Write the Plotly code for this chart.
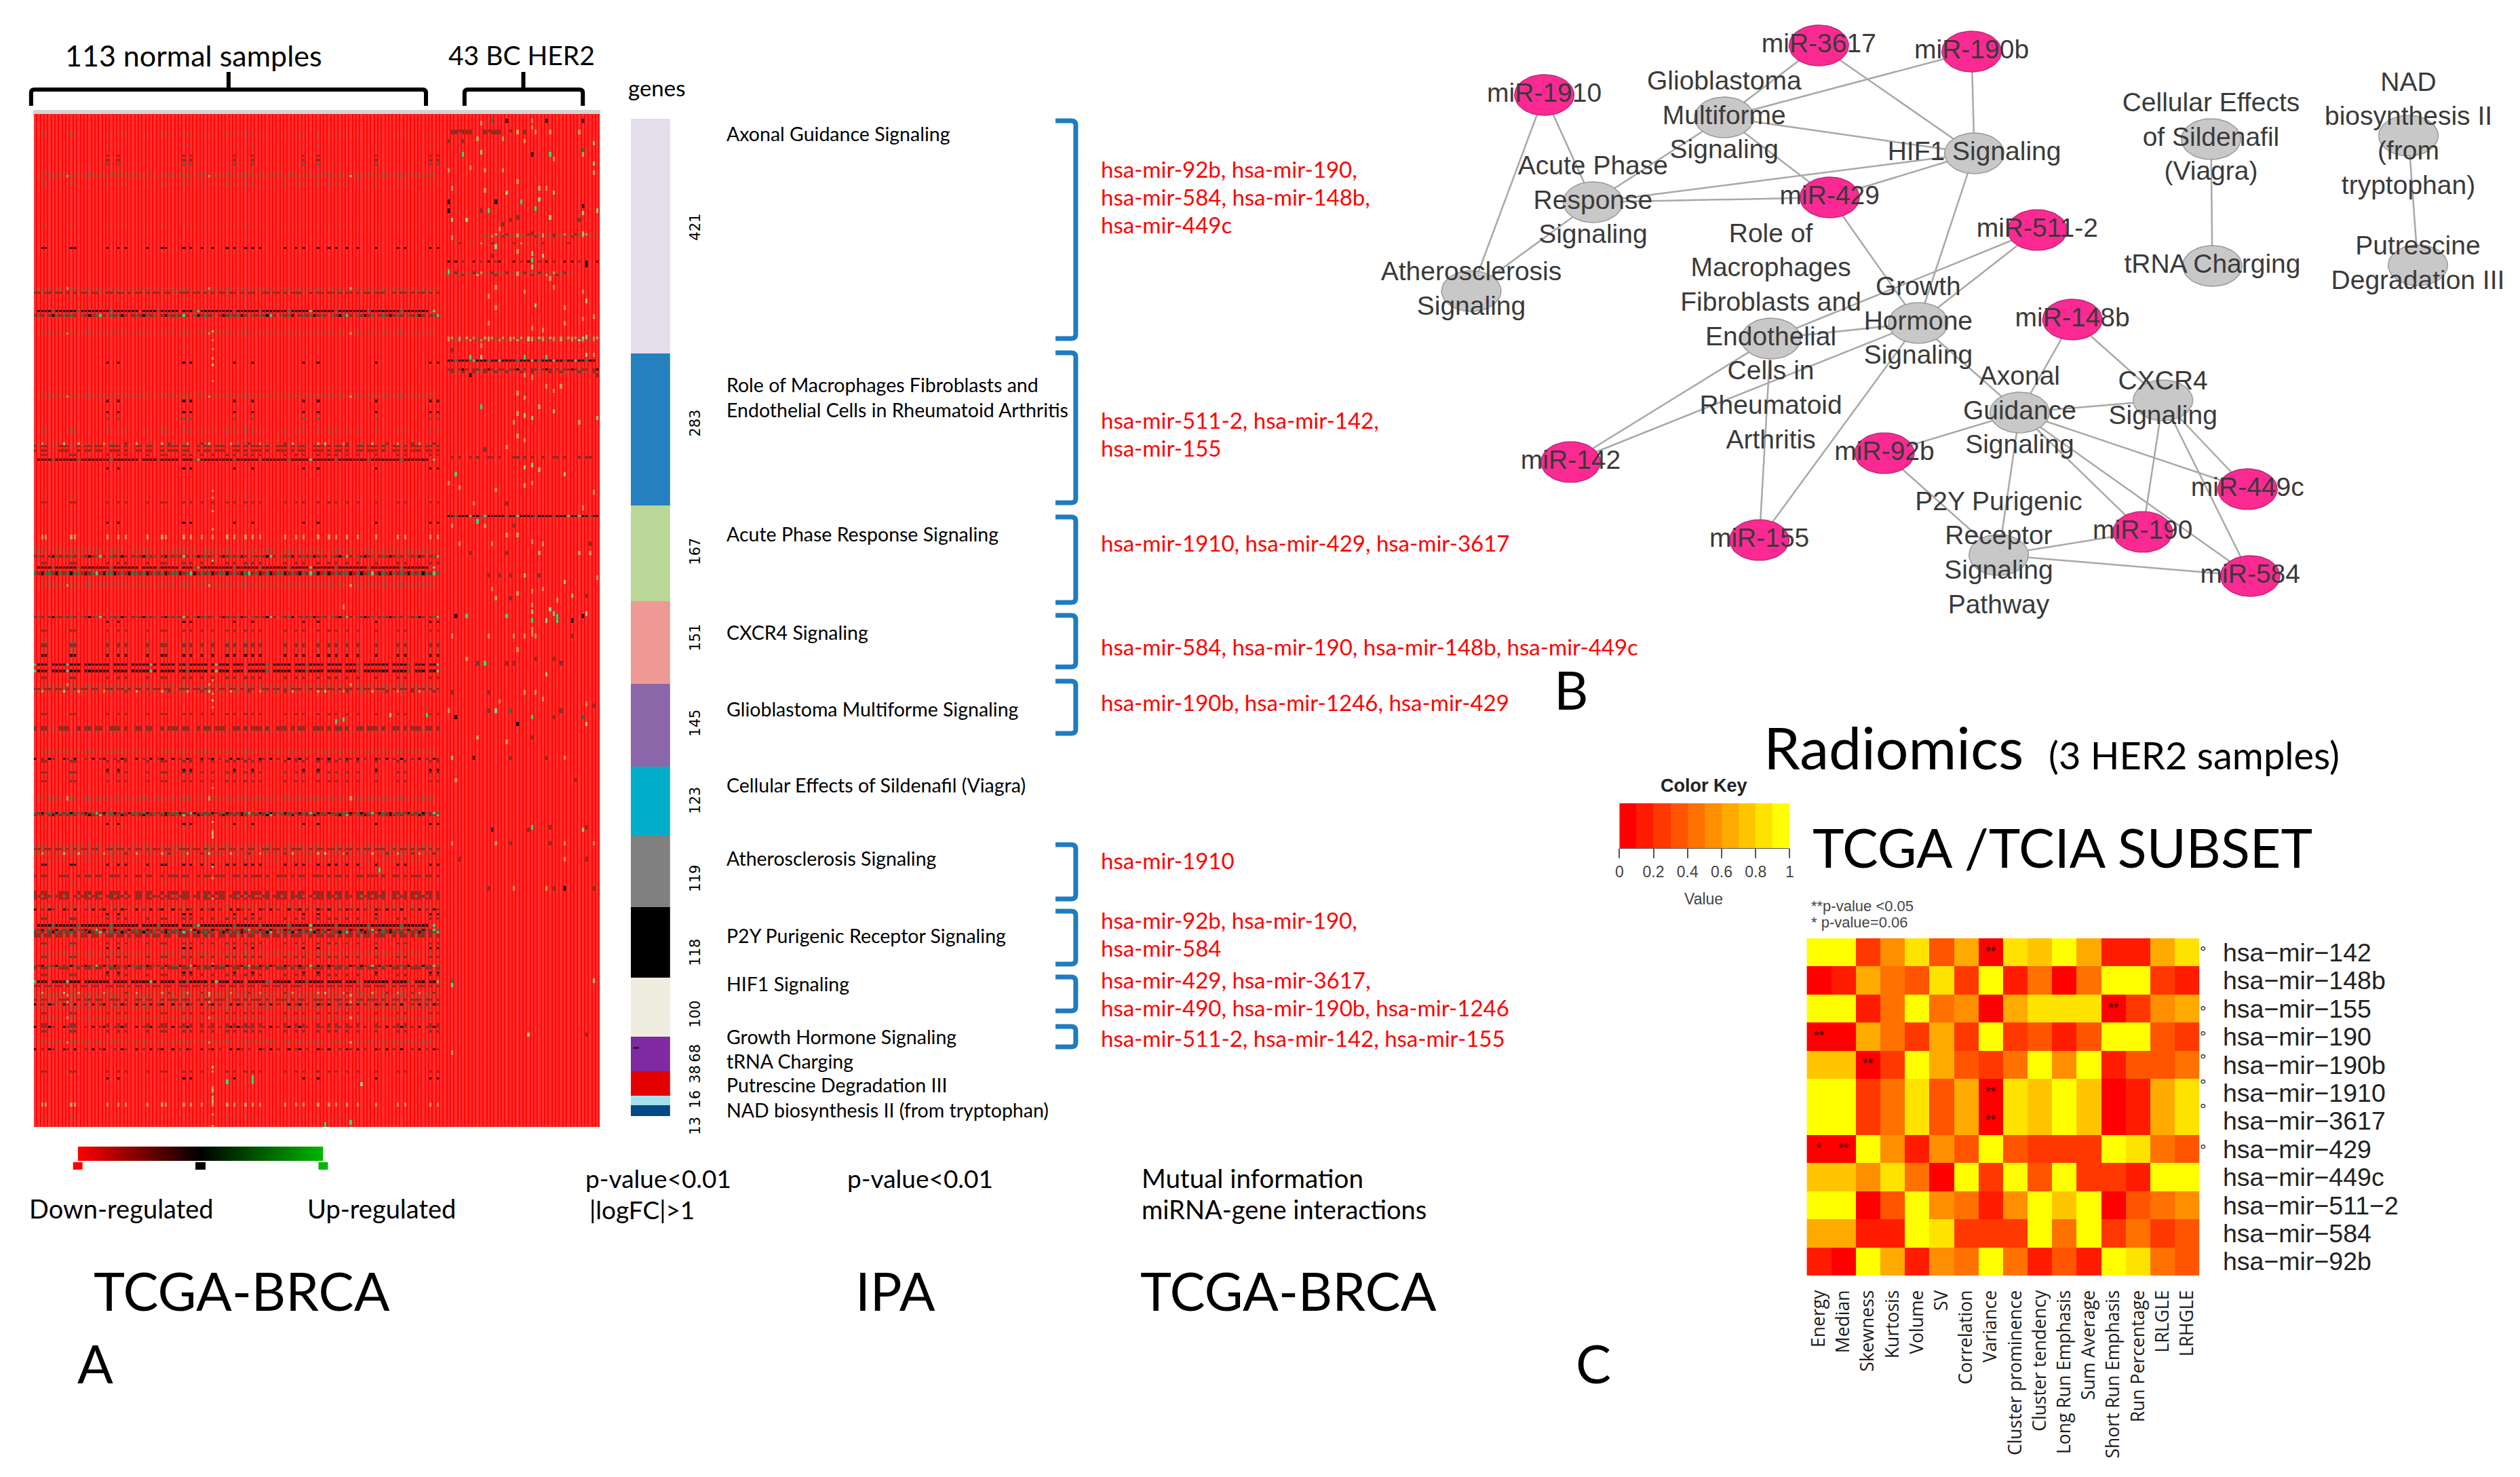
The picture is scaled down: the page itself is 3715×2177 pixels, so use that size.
import numpy as np
import plotly.graph_objects as go

W, H = 3715, 2177

# ---------- Panel A : expression heat map ----------
N_ROWS, N_NORMAL, N_HER2 = 450, 113, 43
HOT_A = [20, 23, 41, 43, 55, 60, 74, 78, 94, 109, 111]
HOT_B = [2, 3, 10, 11, 20, 23, 25, 31, 35, 36, 41, 43, 46, 49, 53, 55, 58, 60, 62, 69,
         72, 74, 78, 81, 83, 86, 89, 94, 100, 102, 109, 111]
ROWS_HOT_A = {13: 'b', 18: 'd', 20: 'd', 22: 'g', 103: 'b', 110: 'k', 127: 'k', 132: 'k', 135: 'g',
              157: 'k', 181: 'k', 225: 'k', 291: 'k', 315: 'k', 355: 'k', 381: 'k', 428: 'k', 370: 'k'}
ROWS_HOT_B = {8: 'b', 9: 'b', 30: 'b', 31: 'b', 49: 'b', 59: 'k', 81: 'b', 139: 'b', 140: 'b', 141: 'b', 151: 'd', 169: 'b', 172: 'd',
              187: 't', 188: 't', 199: 'd', 229: 'd', 233: 'b', 234: 'b', 235: 'd', 236: 'd', 237: 'b', 238: 'b', 240: 'k', 250: 'd', 266: 'd',
              287: 'd', 296: 'd', 341: 'b', 357: 'd', 368: 'd', 369: 'b', 404: 'd', 405: 'd', 407: 'd', 425: 'd',
              439: 't', 440: 't', 445: 'b', 374: 'd', 375: 'b', 333: 'k', 292: 'd', 293: 'b', 316: 'b', 356: 'b', 382: 'd', 389: 'b', 399: 'd'}
DENSE_PATTERNS = {
    'BROWN_1': "..bbb.bbbb.bb.bbb.bb.bbbbb.bbb.bb..bbbb.bbb.bbbbb.bb.bbb.bbbb.bb.bbbb.bbb.bbb.bbbbb.bb.bbb.bbbb.bb.bbb.bbbb.bbb",
    'BROWN_2': ".bb.bbbb.tbb.bbb.bbbb.bb.bb.bbbb.bbb.bb.bbbb.bb.tbbb.bb.bbb.bbbb.bb.bbb.bb.bbbbb.bb.bb.tbbb.bbb.bb.bbbb.bb.bbbb.",
    'BROWN_3': "bbbb..bbb.bbbb.b.bb..bbbb..bb.bbb..bb.bbbb.bb..bbbb.bbb..b.bbb.bbbb..bbb.bb.bbbb..bbb.bbb..bbbb.b.bbb.bbbb.bbb.b",
    'DARK_1': "ddbdd.ddbd.dbdd.ddb.dd.ddbd.dd.dbdd.dd.bddd.dd.dbd.dd.ddbd.dd.bdd.ddbd.ddd.bd.dd.ddbd.dd.dbdd.ddd.bd.dd.dbdd.dbd",
    'DARK_2': "d.dd.b.ddd..d.dd.dd..ddd.d..dd.dd..d.ddd.dd..d.dd.ddd..dd.d.ddd.d..ddd.d.dd..ddd.d.dd.d..dd.ddd.d..dd.d.ddd.dd.d",
    'BLACK_1': ".kkkkgkkkkkkgkkkkkkkkgkkkkkkk.kkkkgkkkkk.kkkgGkkkkkkkkkgkkkkkkgkkkkkkkgkkkkkGkkkkkkgkkkkkkkkgkkkkkkkkgkkkkkkk.G",
    'BLACK_2': "Gkkk.kkkkGkkk.kkkkkkk.kkkk.kkkkkGk.kkkk.kkgkkkkk.kGkkk.kkk.kkkkkg.kkkkk.kkkgkkkk.kkkk.kkkg.kkkkkkk.kkkkg.kkk.kkG",
    'GREEN_1': "gdkggdkgdgkggdkdgGdkggkdgdkggdgkdgdgkdggkdgGkdgdgkdggkdgdkgGdgkdgkdggkdgdkgdGgkdgkdgdggkdgkdgGdkgdkgdgdkgdgkgdGg",
    'GREEN_2': "dgd.dkgdgdgd.gdkdgGd.gdgkd.dgdkgdg.dkgdgdGd.gkdgdg.dkdgdgkd.gdgdkGd.gdgk.dgdgkdgd.gdkgGd.gdkdg.dgdkdgd.gdgkd.dgG",
    'SPECK_1': "k.d.kd..kd.k..d.k.dk..d.kd..k.d.k.dk..k.d.kd..k.dk.d..k.kd.d..kd.k.d..k.dk.d..kd.k..d.kd.k.d..kd.k.d.k..d.k.d.kd",
    'MIX_TAN': "bbtb.bbbl.bbtbb.bb.tbbb.bdb.tb.bbb.tbdb.bbtb.bdbl.bbb.tbb.bdb.tbb.bb.dbtb.bbb.tbl.bb.tdb.bbb.tb.bdb.tbb.dbt.bbdb",
}
DENSE_ROWS = {
    'BROWN_1': [26, 96, 208, 282, 372, 124, 283, 373, 331, 352, 254],
    'BROWN_2': [27, 77, 97, 125, 209, 253, 303, 304, 391, 394, 412, 401],
    'BROWN_3': [78, 193, 194, 325, 351, 396, 397, 411, 324, 327, 392, 274],
    'DARK_1': [79, 255, 326, 364, 365, 387, 347],
    'DARK_2': [149, 272, 273, 346, 345, 338, 393, 147, 348, 379],
    'BLACK_1': [87, 201, 360, 153],
    'BLACK_2': [244, 247, 385],
    'GREEN_1': [203, 204, 362, 378, 310],
    'GREEN_2': [196, 89, 311, 223, 363],
    'SPECK_1': [286, 405, 353, 415, 395],
    'MIX_TAN': [146, 256, 328, 390],
}
COL49_ROWS = [96, 100, 104, 108, 111, 118, 167, 170, 176, 184, 198, 251, 257, 260, 263, 299, 314, 318, 319,
              320, 321, 334, 339, 348, 377, 423, 425, 432, 433, 434, 436, 437, 438, 444, 449]
COL49_LIGHT = [96, 111, 176, 198, 260, 314, 319, 321, 334, 423, 433, 436, 438, 449]
NORMAL_MARKS = [(335, 95, 'G'), (429, 53, 'G'), (429, 60, 'G'), (427, 60, 'G'), (448, 80, 'G'), (447, 87, 'G'),
                (430, 90, 'l'), (218, 85, 't'), (269, 83, 'G'), (268, 85, 'G'), (266, 98, 'l'), (266, 108, 'G')]
HER2_PATTERNS = {
    7: "..dddddd...ddddd..d.t.d..t...t.......t.....",
    8: "..dd.ddd...d.ddd....t.d..t...t.......t.....",
    53: "...........bbbtbbdbbtbbdbbbtbbdbbtbbdbbtbbb",
    54: "...........bbtbbdbbbtbb.bdbtbbdbb.bdbbtb.bb",
    57: "..bbd.bbb.tb.dbb.bbd.tbb.bbd.bb.bbd.b......",
    65: ".k.k.d..k.d.k.dk...k.d.k..d.k.d..k.k.d.k..k",
    70: "bbbdbbbbdbtbbdbbbdbbtbdbbbdbbbtbbdbbb......",
    71: "bb.bbdbbbtb.bbdbb.bbtbbbdbb.tbbdbb.........",
    99: ".ttbtbtbtbbtttbbtbttbtbltbttbttbtbtttbltbtt",
    100: ".tbbtbbtbbtbtbbtbbtbtbbltbbtbbtbtbbtbltbbtb",
    109: ".kkgkkkgGkkkgkkGkkkkgkkkGkgkkkGkkgkkGkkgkk.",
    113: ".ddbdkdbddbdkdbddbddkbdbddbdkdbdbddkdbddbdk",
    114: ".bd.bdb.dbbd.bdb.dbb.db.dbb.bdb.dbb.bdbb.db",
    152: "..d.d..d.d..dd.d...dd.d.d..d..dd.d...d.dd..",
    178: ".kkgkkkGkkgGkkkkkgkkGkkkkgkkkkgkkkGkkGkkgkk",
}
HER2_MARKS = [
    (2, 126, 'g'), (3, 123, 't'), (2, 130, 'k'), (2, 137, 't'), (2, 141, 'k'), (2, 151, 'k'), (5, 137, 't'),
    (10, 122, 't'), (10, 129, 't'), (11, 135, 't'), (12, 154, 'l'), (11, 114, 'd'), (11, 118, 'd'),
    (17, 118, 'G'), (16, 123, 'l'), (17, 142, 'G'), (15, 151, 'g'), (17, 151, 't'), (17, 137, 'k'),
    (19, 143, 't'), (21, 154, 'l'), (25, 154, 't'), (23, 120, 't'), (24, 124, 't'), (24, 129, 't'), (24, 114, 't'),
    (29, 133, 't'), (32, 115, 't'), (33, 124, 't'), (34, 130, 'l'), (32, 139, 't'), (34, 143, 'l'), (32, 141, 't'),
    (38, 114, 'k'), (38, 127, 'k'), (38, 134, 'G'), (37, 139, 'l'), (40, 151, 'k'),
    (42, 123, 'd'), (42, 125, 'G'), (41, 138, 'G'), (42, 114, 'k'), (43, 151, 'l'), (42, 155, 'l'),
    (46, 119, 'l'), (46, 131, 'd'), (45, 133, 'd'), (46, 115, 'l'), (45, 142, 'l'), (46, 150, 'd'), (48, 129, 'd'),
    (50, 128, 't'), (54, 115, 't'), (52, 151, 'l'), (52, 137, 'd'), (60, 133, 't'), (58, 127, 'l'), (61, 137, 'l'),
    (64, 137, 'G'), (62, 140, 'l'), (62, 126, 'd'), (69, 114, 'G'), (67, 137, 'l'), (72, 142, 't'), (66, 152, 'k'),
    (76, 127, 't'), (80, 125, 't'), (76, 143, 't'), (78, 135, 't'), (78, 151, 't'), (82, 152, 'l'), (85, 127, 't'),
    (84, 138, 'l'), (85, 146, 't'), (89, 154, 't'), (90, 151, 't'), (92, 125, 't'), (95, 140, 't'), (94, 137, 't'),
    (92, 146, 't'), (98, 152, 'l'), (102, 123, 't'), (104, 115, 'd'), (107, 120, 'G'), (107, 123, 'l'),
    (107, 135, 'G'), (107, 141, 'G'), (106, 152, 'l'), (106, 154, 't'), (115, 120, 'k'), (115, 135, 't'),
    (116, 137, 't'), (115, 155, 'd'), (120, 141, 't'), (120, 145, 't'), (123, 133, 't'), (122, 143, 't'),
    (125, 135, 't'), (129, 139, 't'), (129, 123, 'G'), (131, 143, 'l'), (132, 133, 't'), (133, 135, 'l'),
    (134, 137, 'l'), (134, 155, 'l'), (136, 150, 't'), (136, 132, 't'), (142, 133, 't'), (144, 135, 't'),
    (147, 130, 't'), (148, 124, 'd'), (155, 137, 'l'), (156, 135, 'l'), (159, 116, 'G'), (157, 139, 't'),
    (159, 146, 'l'), (163, 114, 't'), (165, 117, 't'), (166, 127, 't'), (164, 135, 't'), (163, 137, 't'),
    (167, 154, 't'), (172, 130, 'd'), (172, 121, 't'), (180, 122, 'G'), (174, 151, 't'), (182, 115, 't'),
    (182, 124, 't'), (182, 132, 'd'), (186, 130, 't'), (186, 133, 't'), (189, 137, 't'), (190, 117, 't'),
    (190, 126, 't'), (190, 140, 't'), (190, 153, 'd'), (194, 120, 'd'), (194, 130, 'd'), (194, 139, 't'),
    (194, 150, 't'), (194, 153, 't'), (204, 125, 'd'), (204, 128, 'd'), (204, 131, 'd'), (204, 135, 'l'),
    (204, 139, 'd'), (207, 146, 'l'), (205, 155, 't'), (210, 126, 't'), (210, 140, 't'), (211, 137, 't'),
    (212, 133, 't'), (213, 148, 'l'), (214, 127, 't'), (214, 131, 'd'), (217, 137, 't'), (215, 144, 't'),
    (213, 152, 'd'), (219, 142, 'l'), (220, 137, 'l'), (221, 143, 'l'), (222, 144, 'G'), (221, 152, 'l'),
    (222, 116, 'k'), (222, 119, 'G'), (222, 130, 'G'), (222, 151, 'k'), (224, 137, 'G'), (224, 141, 'l'),
    (224, 144, 'G'), (224, 148, 'k'), (228, 137, 't'), (230, 137, 't'), (231, 138, 't'), (231, 115, 't'),
    (231, 125, 't'), (231, 132, 't'), (231, 135, 't'), (231, 148, 'd'), (237, 133, 't'), (241, 119, 't'),
    (241, 138, 'd'), (241, 143, 'd'), (243, 124, 'G'), (243, 122, 'd'), (243, 130, 'd'), (243, 132, 'd'),
    (243, 145, 'd'), (248, 141, 'l'), (256, 135, 't'), (256, 138, 't'), (256, 115, 'd'), (256, 125, 'd'),
    (259, 140, 't'), (260, 128, 't'), (261, 152, 't'), (262, 154, 'd'), (264, 125, 'd'), (264, 127, 'l'),
    (264, 131, 'g'), (264, 114, 't'), (264, 145, 'd'), (267, 137, 'G'), (267, 143, 'd'), (267, 151, 'g'),
    (267, 116, 'k'), (270, 152, 'l'), (270, 133, 'k'), (276, 122, 't'), (278, 130, 't'), (276, 137, 'd'),
    (285, 115, 'l'), (285, 121, 'k'), (285, 131, 'd'), (285, 141, 'd'), (285, 146, 't'), (295, 116, 't'),
    (295, 149, 'd'), (316, 137, 'G'), (316, 142, 'd'), (316, 152, 'd'), (317, 151, 'l'), (317, 126, 'k'),
    (317, 136, 'd'), (323, 115, 't'), (323, 127, 't'), (323, 131, 'd'), (323, 142, 'd'), (323, 146, 't'),
    (323, 154, 't'), (330, 146, 't'), (330, 152, 'd'), (330, 117, 'd'), (343, 125, 'd'), (343, 132, 't'),
    (343, 141, 't'), (343, 143, 'd'), (343, 146, 'k'), (343, 154, 'd'), (384, 115, 'g'), (384, 154, 'l'),
    (386, 115, 'l'), (408, 136, 'l'), (408, 152, 'd'), (416, 115, 't'),
]
CODES = ".bdktgGl"
CODE_COLORS = ["#ff2f2f", "#b8503c", "#6e3c30", "#0c0c0c", "#cf9a5e", "#1f7f50", "#22e682", "#8fd088"]

# gene bar beside the heat map
GENE_COUNTS = [421, 283, 167, 151, 145, 123, 119, 118, 100, 68, 38, 16, 13]
BAND_SIZES = [346, 224, 141, 121, 122, 102, 105, 104, 87, 51, 36, 14, 16]
BAND_COLORS = ["#e4deec", "#2480bf", "#bad797", "#ee9993", "#8b66a8", "#00aec9", "#808080", "#000000",
               "#efece0", "#7f2aa0", "#e30000", "#a6e0ea", "#024a85"]
GENE_LABEL_Y = [335, 624, 813, 940, 1066, 1180, 1295, 1404, 1495, 1552, 1583, 1620, 1659]
PATHWAYS = ["Axonal Guidance Signaling", "Role of Macrophages Fibroblasts and<br>Endothelial Cells in Rheumatoid Arthritis",
            "Acute Phase Response Signaling", "CXCR4 Signaling", "Glioblastoma Multiforme Signaling",
            "Cellular Effects of Sildenafil (Viagra)", "Atherosclerosis Signaling", "P2Y Purigenic Receptor Signaling",
            "HIF1 Signaling", "Growth Hormone Signaling", "tRNA Charging", "Putrescine Degradation III",
            "NAD biosynthesis II (from tryptophan)"]
PATHWAY_Y = [197, 585, 787, 932, 1045, 1157, 1265, 1379, 1450, 1528, 1564, 1599, 1636]
MIRNA_TEXT = ["hsa-mir-92b, hsa-mir-190,", "hsa-mir-584, hsa-mir-148b,", "hsa-mir-449c", "hsa-mir-511-2, hsa-mir-142,",
              "hsa-mir-155", "hsa-mir-1910, hsa-mir-429, hsa-mir-3617", "hsa-mir-584, hsa-mir-190, hsa-mir-148b, hsa-mir-449c",
              "hsa-mir-190b, hsa-mir-1246, hsa-mir-429", "hsa-mir-1910", "hsa-mir-92b, hsa-mir-190,", "hsa-mir-584",
              "hsa-mir-429, hsa-mir-3617,", "hsa-mir-490, hsa-mir-190b, hsa-mir-1246", "hsa-mir-511-2, hsa-mir-142, hsa-mir-155"]
MIRNA_TEXT_Y = [249, 290, 331, 619, 660, 800, 953, 1035, 1268, 1356, 1397, 1444, 1485, 1530]
BRACKET_SPANS = [(178, 499), (520, 741), (762, 888), (907, 983), (1004, 1081), (1245, 1325), (1343, 1421), (1440, 1490), (1513, 1543)]
LEGEND_Z = [-1, -0.5, 0, 0.5, 1]

# ---------- Panel B : network ----------
NODE_NAMES = ["miR-3617", "miR-190b", "miR-1910", "Glioblastoma<br>Multiforme<br>Signaling", "HIF1 Signaling",
              "Acute Phase<br>Response<br>Signaling", "miR-429", "miR-511-2", "Atherosclerosis<br>Signaling",
              "Growth<br>Hormone<br>Signaling", "Role of<br>Macrophages<br>Fibroblasts and<br>Endothelial<br>Cells in<br>Rheumatoid<br>Arthritis",
              "miR-148b", "CXCR4<br>Signaling", "Axonal<br>Guidance<br>Signaling", "miR-142", "miR-92b", "miR-155",
              "miR-449c", "miR-190", "P2Y Purigenic<br>Receptor<br>Signaling<br>Pathway", "miR-584",
              "Cellular Effects<br>of Sildenafil<br>(Viagra)", "tRNA Charging", "NAD<br>biosynthesis II<br>(from<br>tryptophan)",
              "Putrescine<br>Degradation III"]
NODE_X = [2684, 2910, 2278, 2544, 2914, 2350, 2700, 3007, 2170, 2831, 2613, 3059, 3193, 2981, 2317, 2781, 2596, 3318, 3163,
          2950, 3322, 3264, 3266, 3556, 3570]
NODE_Y = [67, 76, 140, 173, 226, 298, 291, 339, 429, 476, 499, 471, 590, 608, 681, 668, 796, 721, 784, 818, 849, 205, 392, 200, 391]
NODE_IS_MIR = [n.startswith("miR") for n in NODE_NAMES]
EDGES = [(0, 3), (0, 4), (1, 3), (1, 4), (2, 5), (2, 8), (3, 5), (3, 4), (3, 6), (5, 4), (5, 6), (5, 8), (4, 6), (4, 9), (6, 9),
         (7, 10), (7, 9), (10, 9), (10, 14), (9, 14), (10, 16), (9, 16), (9, 13), (11, 13), (11, 12), (13, 12), (13, 15),
         (13, 19), (13, 18), (13, 17), (13, 20), (12, 18), (12, 17), (12, 20), (15, 19), (19, 18), (19, 20), (21, 22), (23, 24)]

# ---------- Panel C : radiomics ----------
RAD_FEATURES = ["Energy", "Median", "Skewness", "Kurtosis", "Volume", "SV", "Correlation", "Variance", "Cluster prominence",
                "Cluster tendency", "Long Run Emphasis", "Sum Average", "Short Run Emphasis", "Run Percentage", "LRLGLE", "LRHGLE"]
RAD_MIRS = ["hsa−mir−142", "hsa−mir−148b", "hsa−mir−155", "hsa−mir−190", "hsa−mir−190b", "hsa−mir−1910", "hsa−mir−3617",
            "hsa−mir−429", "hsa−mir−449c", "hsa−mir−511−2", "hsa−mir−584", "hsa−mir−92b"]
RAD_VALUES = [
    [1, 1, .2, .5, .8, .3, .6, .05, .8, .7, .9, .6, .1, .1, .6, .8],
    [0, .1, .6, .4, .3, .8, .2, 1, .1, .4, .05, .4, .9, 1, .2, .1],
    [1, 1, .1, .4, .9, .4, .5, .05, .6, .8, .8, .8, .05, .2, .5, .6],
    [0, 0, .6, .4, .2, .6, .2, 1, .2, .3, .1, .3, .9, 1, .3, .2],
    [.7, .7, .05, .2, 1, .6, .3, .2, .4, 1, .5, 1, .1, .3, .3, .4],
    [1, 1, .2, .4, .8, .3, .6, .05, .8, .7, .9, .7, 0, .1, .6, .8],
    [1, 1, .2, .4, .8, .3, .6, .05, .8, .7, .9, .7, 0, .1, .6, .8],
    [0, 0, .9, .5, .1, .5, .3, 1, .3, .2, .2, .2, 1, .8, .4, .3],
    [.75, .7, .55, .8, .4, 0, 1, .2, 1, .3, 1, .25, .25, .1, 1, 1],
    [.9, .9, .05, .3, 1, .5, .4, .1, .5, .9, .7, .9, 0, .3, .4, .5],
    [.65, .65, .1, .1, .9, .8, .2, .25, .25, 1, .4, 1, .2, .4, .2, .3],
    [.1, 0, .9, .65, .1, .55, .4, .9, .4, .1, .3, .15, 1, .8, .4, .3],
]
HEAT_STEPS = ["#ff0000", "#ff1c00", "#ff3800", "#ff5500", "#ff7100", "#ff8e00", "#ffaa00", "#ffc600", "#ffe300", "#ffff00"]
STAR_ROWS = [0, 2, 3, 4, 5, 6, 7, 7]
STAR_COLS = [7, 12, 0, 2, 7, 7, 0, 1]
STAR_TEXT = ["**", "**", "**", "**", "**", "**", "*", "**"]
KEY_VALUES = [0.05, 0.15, 0.25, 0.35, 0.45, 0.55, 0.65, 0.75, 0.85, 0.95]
KEY_TICKS = [0, 0.2, 0.4, 0.6, 0.8, 1]
KEY_TICK_TEXT = ["0", "0.2", "0.4", "0.6", "0.8", "1"]

# ---------- build ----------
codeidx = {c: i for i, c in enumerate(CODES)}
Z = np.zeros((N_ROWS, N_NORMAL + N_HER2), dtype=int)
for name, rows in DENSE_ROWS.items():
    pat = DENSE_PATTERNS[name].ljust(N_NORMAL, '.')[:N_NORMAL]
    for r in rows:
        Z[r, :N_NORMAL] = [codeidx[c] for c in pat]
for r, c in ROWS_HOT_B.items():
    Z[r, HOT_B] = codeidx[c]
for r, c in ROWS_HOT_A.items():
    Z[r, HOT_A] = codeidx[c]
for r in COL49_ROWS:
    Z[r, 49] = codeidx['l' if r in COL49_LIGHT else 't']
for r, col, c in NORMAL_MARKS:
    Z[r:r + 2, col] = codeidx[c]
for r, pat in HER2_PATTERNS.items():
    pat = pat.ljust(N_HER2, '.')[:N_HER2]
    Z[r, N_NORMAL:] = [codeidx[c] for c in pat]
for r, col, c in HER2_MARKS:
    Z[r:r + 2, col] = codeidx[c]


def fx(p): return p / W
def fy(p): return 1 - p / H
def dom_x(a, b): return [fx(a), fx(b)]
def dom_y(a, b): return [fy(b), fy(a)]


def stepped(colors):
    n = len(colors)
    out = []
    for i, c in enumerate(colors):
        out += [[i / n, c], [(i + 1) / n, c]]
    return out


fig = go.Figure()
HIDE = dict(visible=False, showgrid=False, zeroline=False)
lay = dict(
    width=W, height=H, margin=dict(l=0, r=0, t=0, b=0, pad=0), paper_bgcolor="white", plot_bgcolor="rgba(0,0,0,0)",
    showlegend=False, barmode="stack", bargap=0, hoverlabel=dict(font_size=14),
    xaxis=dict(domain=dom_x(44, 881), range=[-0.5, 155.5], **HIDE),
    yaxis=dict(domain=dom_y(168, 1661), range=[N_ROWS - 0.5, -0.5], **HIDE),
    xaxis2=dict(domain=dom_x(927, 985), range=[-0.5, 0.5], anchor="y2", **HIDE),
    yaxis2=dict(domain=dom_y(175, 1645), range=[sum(BAND_SIZES), 0], anchor="x2", **HIDE),
    xaxis3=dict(domain=[0, 1], range=[0, W], anchor="y3", **HIDE),
    yaxis3=dict(domain=[0, 1], range=[H, 0], anchor="x3", **HIDE),
    xaxis4=dict(domain=dom_x(2666, 3247), range=[-0.5, 15.5], anchor="y4", tickmode="array", tickvals=list(range(16)),
                ticktext=RAD_FEATURES, tickangle=-90, ticks="outside", ticklen=10, tickcolor="rgba(0,0,0,0)", side="bottom",
                tickfont=dict(family="Open Sans", size=26.5, color="#1a1a1a"), showgrid=False, zeroline=False, showline=False),
    yaxis4=dict(domain=dom_y(1383, 1880), range=[11.5, -0.5], anchor="x4", side="right", tickmode="array", tickvals=list(range(12)),
                ticktext=RAD_MIRS, ticks="outside", ticklen=26, tickcolor="rgba(0,0,0,0)",
                tickfont=dict(family="Liberation Sans", size=37.5, color="#222222"), showgrid=False, zeroline=False, showline=False),
    xaxis5=dict(domain=dom_x(2389, 2641), range=[0, 1], anchor="y5", tickmode="array", tickvals=KEY_TICKS, ticktext=KEY_TICK_TEXT,
                ticks="outside", ticklen=14, tickwidth=2, tickcolor="#555555", showline=True, linecolor="#555555", linewidth=1,
                tickfont=dict(family="Liberation Sans", size=23, color="#444444"), showgrid=False, zeroline=False),
    yaxis5=dict(domain=dom_y(1184, 1250), range=[0, 1], anchor="x5", **HIDE),
    xaxis6=dict(domain=dom_x(109, 472), range=[-1, 1], anchor="y6", **HIDE),
    yaxis6=dict(domain=dom_y(1690, 1711), anchor="x6", **HIDE),
)
fig.update_layout(**lay)

shapes = []
# bright red seen between the heat-map columns (tied to the heat-map axes so it sits under that trace)
shapes.append(dict(type="rect", xref="x", yref="y", x0=-0.5, x1=155.5, y0=-0.5, y1=N_ROWS - 0.5, fillcolor="#ff0000", line_width=0, layer="below"))
shapes.append(dict(type="rect", xref="x3", yref="y3", x0=43, x1=882, y0=162, y1=168, fillcolor="#d4d4d4", line_width=0))

fig.add_trace(go.Heatmap(z=Z.tolist(), zmin=-0.5, zmax=7.5, colorscale=stepped(CODE_COLORS), showscale=False, xgap=1.8, xaxis="x", yaxis="y", hoverinfo="skip"))
for g, s, c in zip(GENE_COUNTS, BAND_SIZES, BAND_COLORS):
    fig.add_trace(go.Bar(x=[0], y=[s], width=1, marker=dict(color=c, line_width=0), name=str(g), xaxis="x2", yaxis="y2", hoverinfo="name"))

# network
ex, ey = [], []
for a, b in EDGES:
    ex += [NODE_X[a], NODE_X[b], None]
    ey += [NODE_Y[a], NODE_Y[b], None]
fig.add_trace(go.Scatter(x=ex, y=ey, mode="lines", line=dict(color="#a8a8a8", width=2.5), xaxis="x3", yaxis="y3", hoverinfo="skip"))
th = np.linspace(0, 2 * np.pi, 49)
for flag, fill, edge in [(True, "#fa2a92", "#c02a78"), (False, "#c8c8c8", "#9a9a9a")]:
    px_, py_ = [], []
    for x0, y0, m in zip(NODE_X, NODE_Y, NODE_IS_MIR):
        if m == flag:
            px_ += list(x0 + 44 * np.cos(th)) + [None]
            py_ += list(y0 + 30 * np.sin(th)) + [None]
    fig.add_trace(go.Scatter(x=px_, y=py_, mode="lines", fill="toself", fillcolor=fill, line=dict(color=edge, width=1.5), xaxis="x3", yaxis="y3", hoverinfo="skip"))
fig.add_trace(go.Scatter(x=NODE_X, y=NODE_Y, mode="text", text=NODE_NAMES, textposition="middle center",
                         textfont=dict(family="Liberation Sans", size=39, color="#3a3a3a"), xaxis="x3", yaxis="y3", hoverinfo="skip"))

# radiomics
fig.add_trace(go.Heatmap(z=RAD_VALUES, x=list(range(16)), y=list(range(12)), zmin=0, zmax=1, colorscale=stepped(HEAT_STEPS), showscale=False, xaxis="x4", yaxis="y4"))
fig.add_trace(go.Scatter(x=STAR_COLS, y=STAR_ROWS, mode="text", text=STAR_TEXT, textfont=dict(family="Liberation Sans", size=20, color="#300000"), xaxis="x4", yaxis="y4", hoverinfo="skip"))
fig.add_trace(go.Heatmap(z=[KEY_VALUES], x=KEY_VALUES, y=[0.5], zmin=0, zmax=1, colorscale=stepped(HEAT_STEPS), showscale=False, xaxis="x5", yaxis="y5", hoverinfo="skip"))
fig.add_trace(go.Heatmap(z=[LEGEND_Z], x=LEGEND_Z, zsmooth="best", zmin=-1, zmax=1, colorscale=[[0, "#ff0000"], [0.5, "#000000"], [1, "#00b800"]], showscale=False, xaxis="x6", yaxis="y6", hoverinfo="skip"))

# brackets
BLACK = dict(color="#000000", width=6)
for x0, x1, xm in [(40, 624, 332), (681, 856, 768)]:
    shapes.append(dict(type="path", xref="x3", yref="y3", line=BLACK,
                       path=f"M {x0} 156 L {x0} 137 Q {x0} 132 {x0+5} 132 L {x1-5} 132 Q {x1} 132 {x1} 137 L {x1} 156"))
    shapes.append(dict(type="path", xref="x3", yref="y3", line=BLACK, path=f"M {xm} 106 L {xm} 132"))
for y0, y1 in BRACKET_SPANS:
    shapes.append(dict(type="path", xref="x3", yref="y3", line=dict(color="#1f7cc0", width=7),
                       path=f"M 1555 {y0} L 1578 {y0} Q 1585 {y0} 1585 {y0+6} L 1585 {y1-6} Q 1585 {y1} 1578 {y1} L 1555 {y1}"))
# legend end ticks
for x0, x1, c in [(102, 116, "#ff0000"), (283, 298, "#000000"), (465, 479, "#00b800")]:
    shapes.append(dict(type="rect", xref="x3", yref="y3", x0=x0, x1=x1, y0=1713, y1=1724, fillcolor=c, line_width=0))
# dark fleck in the violet band
shapes.append(dict(type="rect", xref="x3", yref="y3", x0=931, x1=939, y0=1543, y1=1546, fillcolor="#3a1050", line_width=0))
fig.update_layout(shapes=shapes)

ann = []


def text(x, y, s, size, color="#000000", family="Lato", xanchor="left", angle=0):
    ann.append(dict(x=x, y=y, xref="x3", yref="y3", text=s, showarrow=False, xanchor=xanchor, yanchor="middle", textangle=angle,
                    align="left", font=dict(family=family, size=size, color=color)))


text(88, 81, "113 normal samples", 43)
text(655, 81, "43 BC HER2", 39)
text(921, 129, "genes", 33)
for g, y in zip(GENE_COUNTS, GENE_LABEL_Y):
    text(1022, y, str(g), 21, family="DejaVu Sans", xanchor="center", angle=-90)
for s, y in zip(PATHWAYS, PATHWAY_Y):
    text(1066, y, s, 28.5)
for s, y in zip(MIRNA_TEXT, MIRNA_TEXT_Y):
    text(1620, y, s, 33, color="#ff0000")
text(35, 1781, "Down-regulated", 38)
text(446, 1781, "Up-regulated", 38)
text(858, 1736, "p-value&lt;0.01", 37)
text(864, 1782, "|logFC|&gt;1", 37)
text(1245, 1736, "p-value&lt;0.01", 37)
text(1680, 1736, "Mutual information", 38.5)
text(1680, 1782, "miRNA-gene interactions", 38)
text(130, 1902, "TCGA-BRCA", 78)
text(1257, 1902, "IPA", 78)
text(1678, 1902, "TCGA-BRCA", 78)
text(106, 2009, "A", 78)
text(2290, 1016, "B", 78)
text(2322, 2009, "C", 78)
text(2600, 1100, "Radiomics", 86)
text(3022, 1112, "(3 HER2 samples)", 56)
text(2673, 1248, "TCGA /TCIA SUBSET", 79)
text(2514, 1158, "<b>Color Key</b>", 27, family="Liberation Sans", color="#222222", xanchor="center")
text(2514, 1325, "Value", 23, family="Liberation Sans", color="#444444", xanchor="center")
text(2671, 1335, "**p-value &lt;0.05", 22, family="Liberation Sans", color="#444444")
text(2671, 1359, "* p-value=0.06", 22, family="Liberation Sans", color="#444444")
for y in [1402, 1490, 1527, 1561, 1598, 1634, 1694]:
    text(3252, y, "°", 24, family="Liberation Sans", color="#222222", xanchor="center")
fig.update_layout(annotations=ann)

fig.write_html("out.html", config={"displayModeBar": False}, post_script="document.body.style.margin='0';")
